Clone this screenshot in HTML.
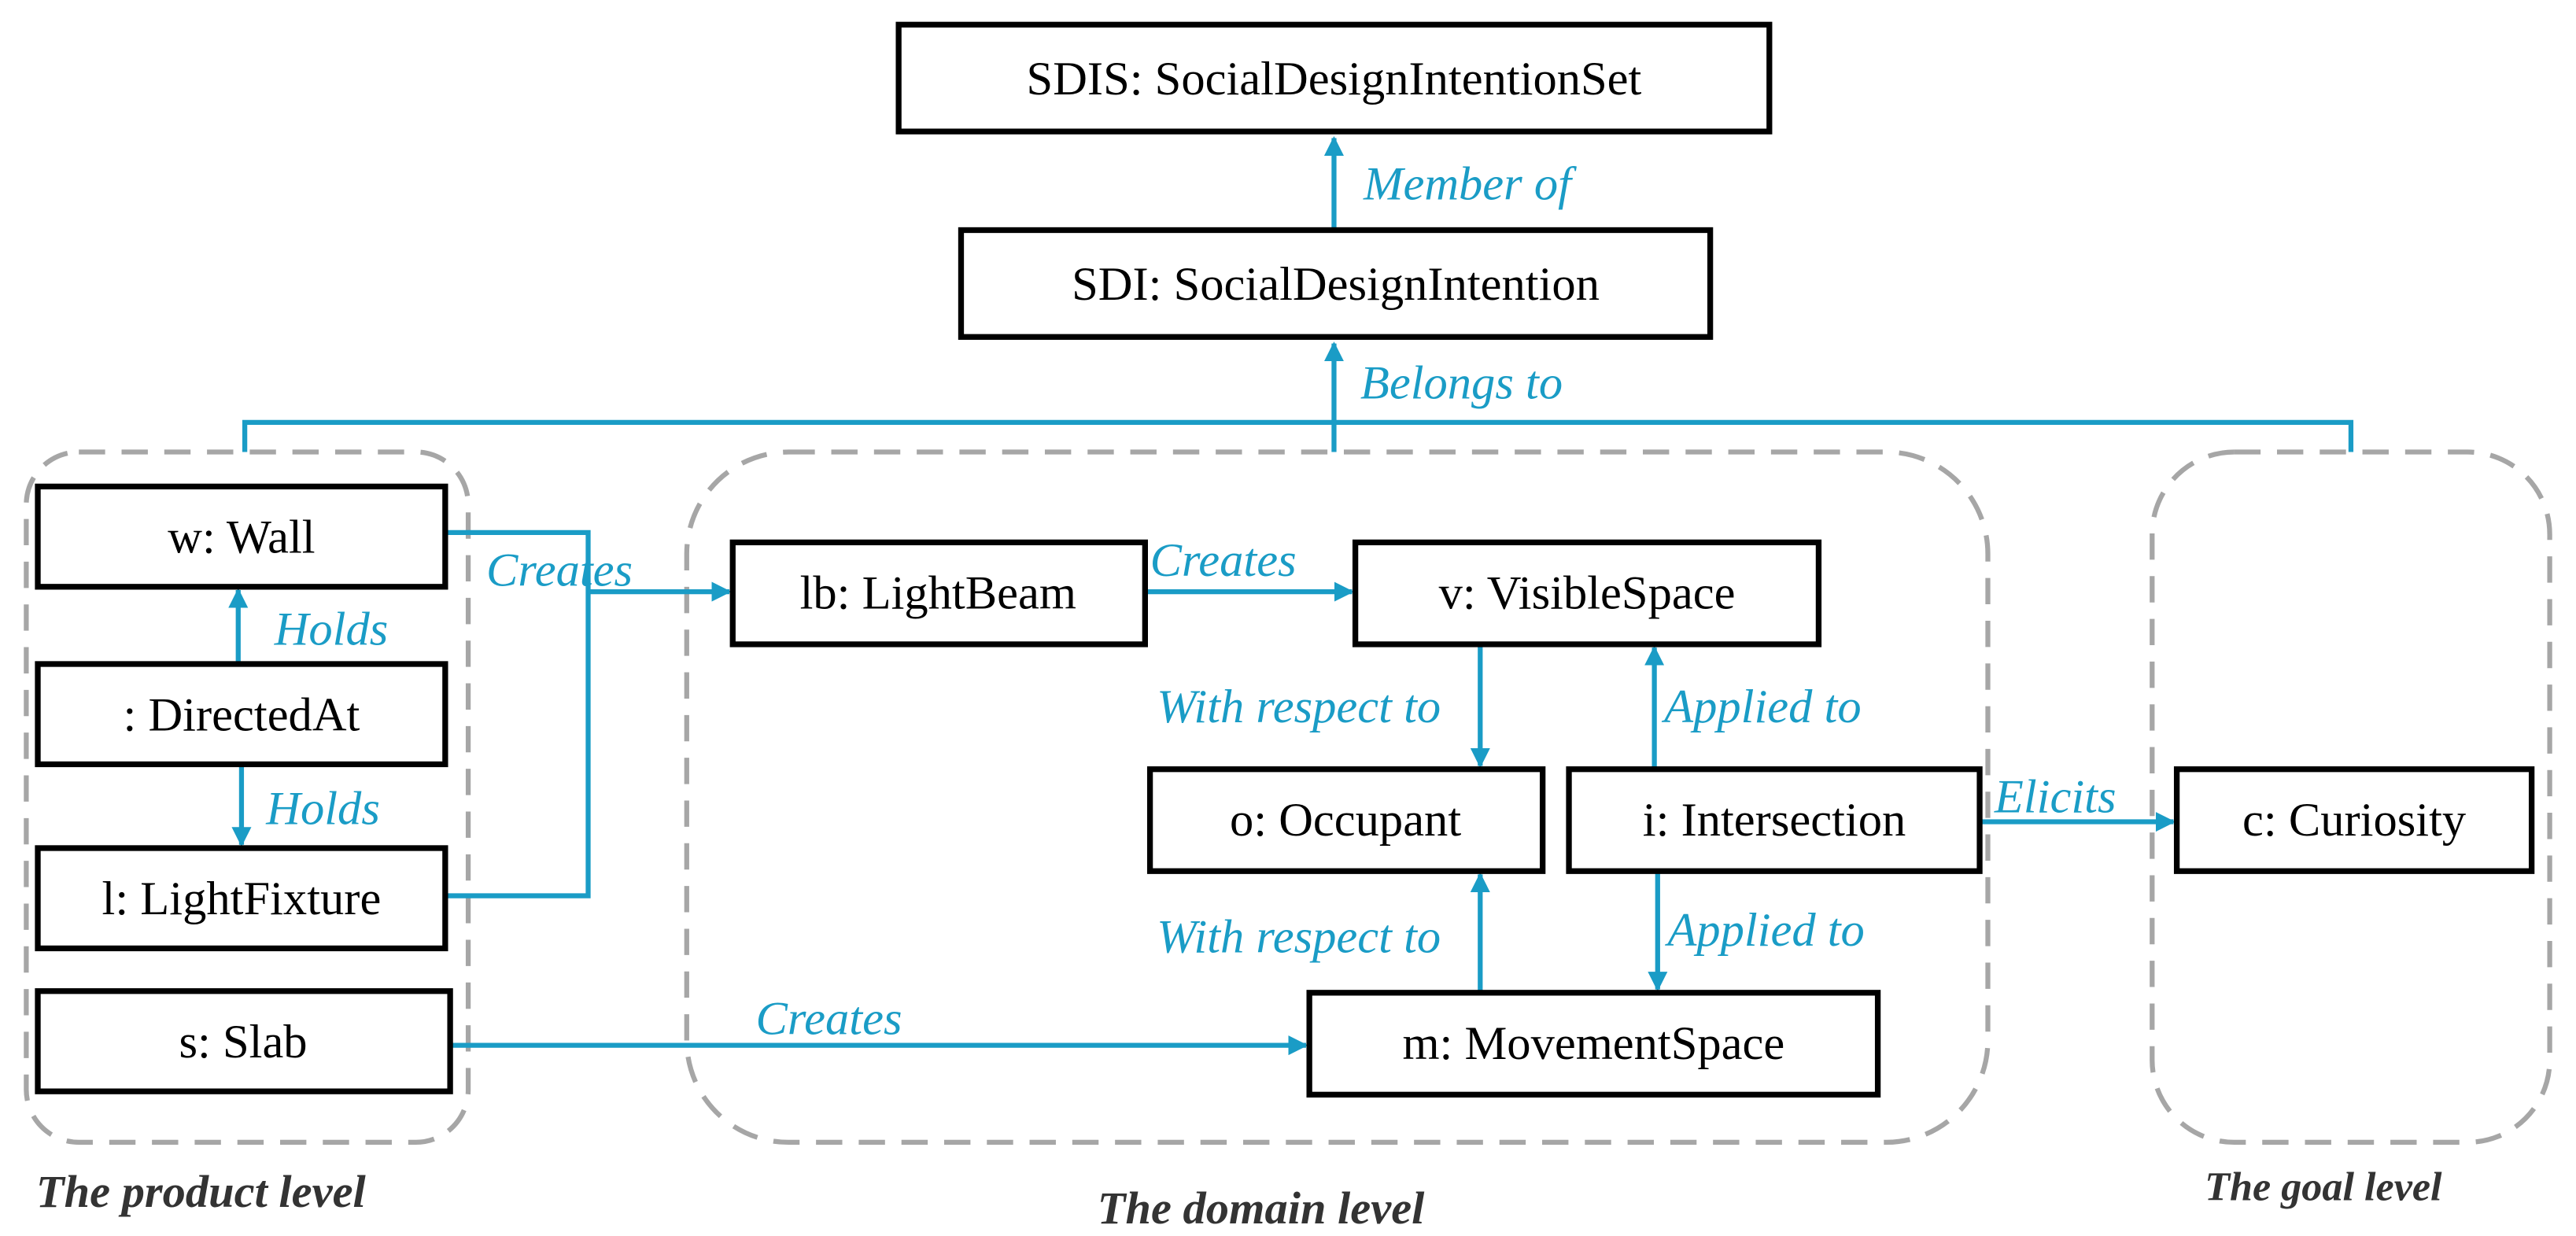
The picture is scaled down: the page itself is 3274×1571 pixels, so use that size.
<!DOCTYPE html>
<html><head><meta charset="utf-8"><style>
html,body{margin:0;padding:0;background:#fff;}
svg{display:block;}
</style></head><body>
<svg width="3274" height="1571" viewBox="0 0 1568 752" preserveAspectRatio="none" xmlns="http://www.w3.org/2000/svg">
<defs>
<marker id="a" viewBox="0 0 10 10" refX="9" refY="5" markerWidth="4" markerHeight="4" orient="auto" markerUnits="strokeWidth">
<path d="M0,0 L10,5 L0,10 z" fill="#1a9cc6"/></marker>
</defs>
<g fill="none" stroke="#a6a6a6" stroke-width="3" stroke-dasharray="16 10">
<rect x="16" y="275" width="269" height="420" rx="32"/>
<rect x="418" y="275" width="792" height="420" rx="62"/>
<rect x="1310" y="275" width="242" height="420" rx="50"/>
</g>
<g fill="none" stroke="#1a9cc6" stroke-width="3">
<path d="M149,275 V257 H1431 V275"/>
<path d="M812,275 V257"/>
<path d="M812,257 V209" marker-end="url(#a)"/>
<path d="M812,140 V84" marker-end="url(#a)"/>
<path d="M271,324 H358 V545 H271"/>
<path d="M358,360 H444" marker-end="url(#a)"/>
<path d="M697,360 H823" marker-end="url(#a)"/>
<path d="M901,392 V466" marker-end="url(#a)"/>
<path d="M1007,468 V394" marker-end="url(#a)"/>
<path d="M901,604 V532" marker-end="url(#a)"/>
<path d="M1009,530 V602" marker-end="url(#a)"/>
<path d="M1205,500 H1323" marker-end="url(#a)"/>
<path d="M274,636 H795" marker-end="url(#a)"/>
<path d="M145,404 V359" marker-end="url(#a)"/>
<path d="M147,465 V514" marker-end="url(#a)"/>
</g>
<g fill="#fff" stroke="#000" stroke-width="3.5">
<rect x="547" y="15" width="530" height="65"/>
<rect x="585" y="140" width="456" height="65"/>
<rect x="23" y="296" width="248" height="61"/>
<rect x="23" y="404" width="248" height="61"/>
<rect x="23" y="516" width="248" height="61"/>
<rect x="23" y="603" width="251" height="61"/>
<rect x="446" y="330" width="251" height="62"/>
<rect x="825" y="330" width="282" height="62"/>
<rect x="700" y="468" width="239" height="62"/>
<rect x="955" y="468" width="250" height="62"/>
<rect x="1325" y="468" width="216" height="62"/>
<rect x="797" y="604" width="346" height="62"/>
</g>
<g font-family="Liberation Serif, serif" font-size="29" fill="#000" text-anchor="middle" dominant-baseline="central">
<text x="812" y="48">SDIS: SocialDesignIntentionSet</text>
<text x="813" y="173">SDI: SocialDesignIntention</text>
<text x="147" y="327">w: Wall</text>
<text x="147" y="435">: DirectedAt</text>
<text x="147" y="547">l: LightFixture</text>
<text x="148" y="634">s: Slab</text>
<text x="571" y="361">lb: LightBeam</text>
<text x="966" y="361">v: VisibleSpace</text>
<text x="819" y="499">o: Occupant</text>
<text x="1080" y="499">i: Intersection</text>
<text x="1433" y="499">c: Curiosity</text>
<text x="970" y="635">m: MovementSpace</text>
</g>
<g font-family="Liberation Serif, serif" font-style="italic" font-size="29" fill="#1a9cc6" dominant-baseline="central">
<text x="830" y="112">Member of</text>
<text x="828" y="233">Belongs to</text>
<text x="296" y="347">Creates</text>
<text x="700" y="341">Creates</text>
<text x="167" y="383">Holds</text>
<text x="162" y="492">Holds</text>
<text x="877" y="430" text-anchor="end">With respect to</text>
<text x="1013" y="430">Applied to</text>
<text x="877" y="570" text-anchor="end">With respect to</text>
<text x="1015" y="566">Applied to</text>
<text x="1214" y="485">Elicits</text>
<text x="460" y="620">Creates</text>
</g>
<g font-family="Liberation Serif, serif" font-style="italic" font-weight="bold" font-size="28" fill="#333" dominant-baseline="central">
<text x="22" y="725">The product level</text>
<text x="668" y="735">The domain level</text>
<text x="1342" y="722" font-size="25">The goal level</text>
</g>
</svg>
</body></html>
